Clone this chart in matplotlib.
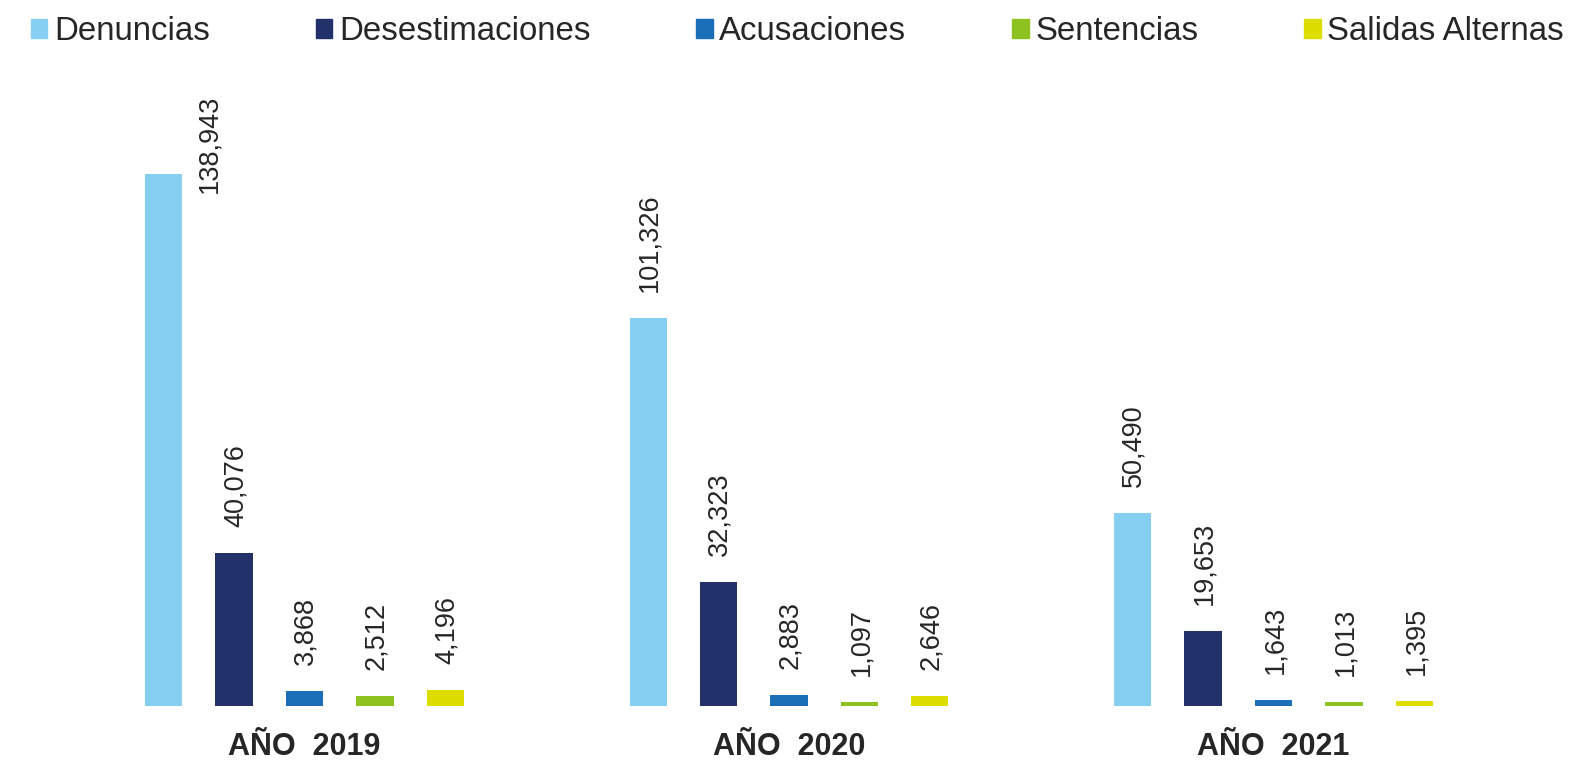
import numpy as np
import matplotlib
matplotlib.use("Agg")
import matplotlib.pyplot as plt
from matplotlib.patches import Patch

plt.rcParams['font.family'] = ['Liberation Sans', 'DejaVu Sans']

# data
groups = ['AÑO  2019', 'AÑO  2020', 'AÑO  2021']
series = ['Denuncias', 'Desestimaciones', 'Acusaciones', 'Sentencias', 'Salidas Alternas']
denuncias = [138943, 101326, 50490]
desestimaciones = [40076, 32323, 19653]
acusaciones = [3868, 2883, 1643]
sentencias = [2512, 1097, 1013]
salidas = [4196, 2646, 1395]
colors = ['#86CEF2', '#22316A', '#1B6FB8', '#8DC220', '#DEDD00']

values = [denuncias, desestimaciones, acusaciones, sentencias, salidas]
txt = '#262626'

fig = plt.figure(figsize=(15.95, 7.61), dpi=100)
# axes spans full width; baseline at 706px, top at 60px
ax = fig.add_axes([0, 55 / 761, 1, 646 / 761])

x = np.arange(len(groups))
pitch = 0.1455
width = 0.0764
ymax = max(denuncias) * 646 / 532

for i, (name, vals) in enumerate(zip(series, values)):
    pos = x + (i - 2) * pitch
    bars = ax.bar(pos, vals, width=width, color=colors[i], label=name)
    for b, v in zip(bars, vals):
        cx = b.get_x() + b.get_width() / 2
        if v == max(denuncias):
            # tallest bar: label pushed to the right side
            off = (32.8, -13.7)
        else:
            off = (1, 18.7)
        ax.annotate(f"{v:,}", xy=(cx, v), xytext=off, textcoords='offset points',
                    rotation=90, ha='center', va='bottom', fontsize=19.5, color=txt)

ax.set_xlim(-304.5 / 484.5, (1595 - 304.5) / 484.5)
ax.set_ylim(0, ymax)
ax.set_xticks(x)
ax.set_xticklabels(groups, fontsize=22, color=txt, fontweight='bold')
ax.tick_params(axis='x', length=0, pad=19)
ax.set_yticks([])
for s in ax.spines.values():
    s.set_visible(False)

handles = [Patch(color=c) for c in colors]
fig.legend(handles, series, loc='center', bbox_to_anchor=(0.5, 1 - 32 / 761),
           ncol=5, frameon=False, fontsize=23.8, labelcolor=txt,
           handlelength=0.5, handleheight=0.5, handletextpad=0.2,
           columnspacing=3.2, borderpad=0, borderaxespad=0)

fig.savefig('out.png', dpi=100)
